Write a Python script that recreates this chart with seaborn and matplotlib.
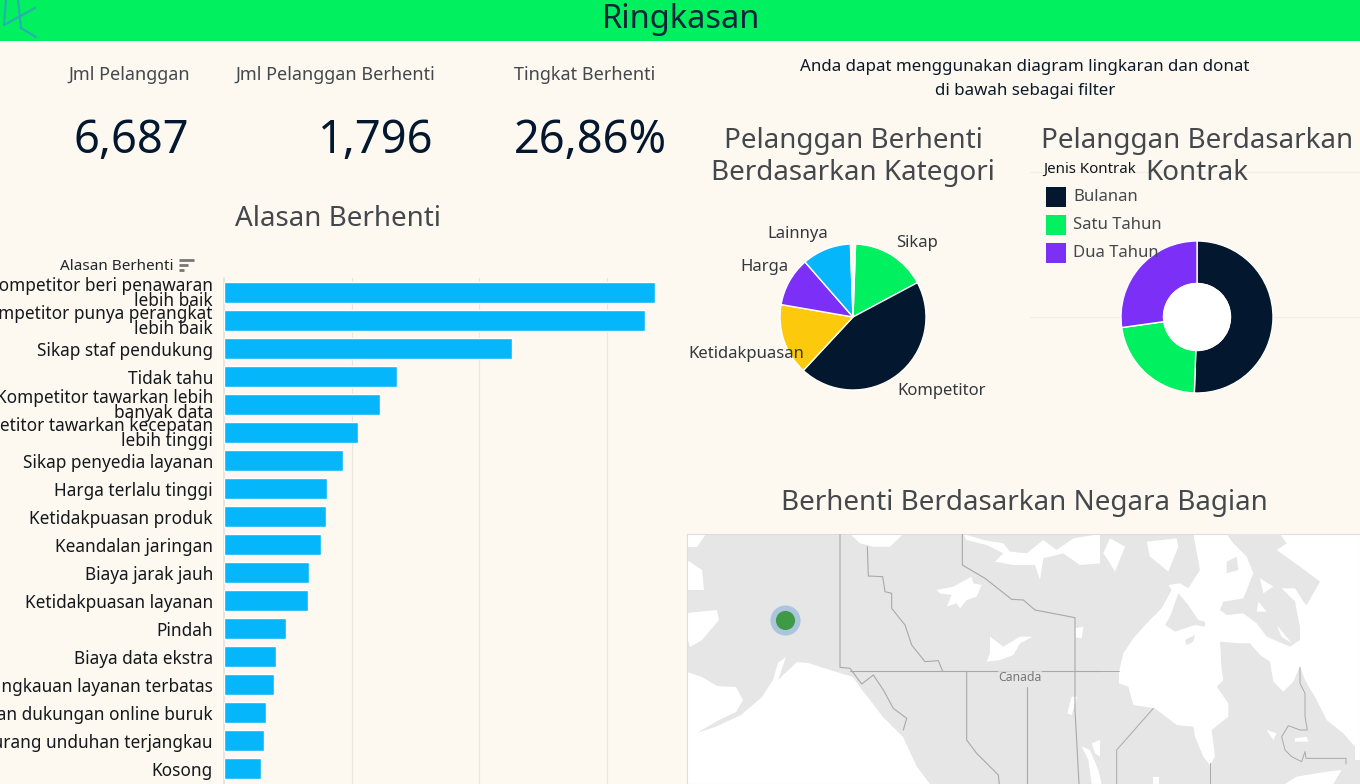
import matplotlib
matplotlib.use("Agg")
import matplotlib.pyplot as plt
from matplotlib.patches import Circle, Polygon, Rectangle
import numpy as np
import pandas as pd
import seaborn as sns

# Churn reasons, in customers
reasons = [
    "Kompetitor beri penawaran\nlebih baik", "Kompetitor punya perangkat\nlebih baik",
    "Sikap staf pendukung", "Tidak tahu", "Kompetitor tawarkan lebih\nbanyak data",
    "Kompetitor tawarkan kecepatan\nlebih tinggi", "Sikap penyedia layanan",
    "Harga terlalu tinggi", "Ketidakpuasan produk", "Keandalan jaringan",
    "Biaya jarak jauh", "Ketidakpuasan layanan", "Pindah", "Biaya data ekstra",
    "Jangkauan layanan terbatas", "Keahlian dukungan online buruk",
    "Kurang unduhan terjangkau", "Kosong",
]
reason_counts = [338, 330, 226, 136, 122, 105, 93, 81, 80, 76, 67, 66, 49, 41, 39, 33, 31, 29]

category_names = ["Sikap", "Kompetitor", "Ketidakpuasan", "Harga", "Lainnya", "Kosong"]
category_counts = [299, 803, 284, 195, 195, 20]

contract_names = ["Bulanan", "Satu Tahun", "Dua Tahun"]
contract_counts = [3381, 1486, 1820]

kpi_labels = ["Jml Pelanggan", "Jml Pelanggan Berhenti", "Tingkat Berhenti"]
kpi_values = ["6,687", "1,796", "26,86%"]

state_x = [785]
state_y = [620]

NAVY = "#03182f"
GREEN = "#00f060"
PURPLE = "#7b2ff7"
BLUE = "#06b6fb"
YELLOW = "#fdc90d"
PAPER = "#fdf9f1"
LAND = "#e6e6e6"
BORDER = "#a9a9a9"

W, H = 1360, 784
SANS = ["Noto Sans", "DejaVu Sans"]
NARROW = ["Liberation Sans Narrow", "Noto Sans", "DejaVu Sans"]

sns.set_theme(style="white")
plt.rcParams["font.family"] = SANS


def pixel_axes(fig, left, top, width, height, **kwargs):
    return fig.add_axes([left / W, 1 - (top + height) / H, width / W, height / H], **kwargs)


fig = plt.figure(figsize=(W / 100, H / 100), dpi=100, facecolor=PAPER)

# Reasons bar chart
ax_bar = pixel_axes(fig, 224, 278, 445, 506, facecolor=PAPER)
frame = pd.DataFrame({"alasan": reasons, "jumlah": reason_counts})
sns.barplot(data=frame, y="alasan", x="jumlah", color=BLUE, saturation=1, width=0.75,
            ax=ax_bar, zorder=3)
ax_bar.set_xlim(0, 349)
ax_bar.set_ylim(17.55, -0.518)
ax_bar.set_xticks([100, 200, 300])
ax_bar.set_xticklabels([])
ax_bar.grid(axis="x", color="#e8e6e0", lw=0.8, zorder=0)
ax_bar.set_xlabel("")
ax_bar.set_ylabel("")
for side in ["top", "right", "bottom"]:
    ax_bar.spines[side].set_visible(False)
ax_bar.spines["left"].set_color("#e3e3e3")
ax_bar.tick_params(axis="y", length=0, pad=8)
for label in ax_bar.get_yticklabels():
    label.set(family=NARROW, fontsize=12.4, color="#15181c", linespacing=0.82, ha="right")

# Category pie
ax_pie = pixel_axes(fig, 780, 244, 146, 146)
ax_pie.pie(category_counts, colors=[GREEN, NAVY, YELLOW, PURPLE, BLUE, PAPER],
           startangle=88, counterclock=False, radius=1)
ax_pie.set_xlim(-1, 1)
ax_pie.set_ylim(-1, 1)

# Contract donut
ax_donut = pixel_axes(fig, 1121, 241, 152, 152)
ax_donut.pie(contract_counts, colors=[NAVY, GREEN, PURPLE], startangle=90, counterclock=False,
             radius=1, wedgeprops={"width": 0.56})
ax_donut.add_patch(Circle((0, 0), 0.44, color="white", zorder=5))
ax_donut.set_xlim(-1, 1)
ax_donut.set_ylim(-1, 1)

# State map: land backdrop, water bodies, borders
ax_map = pixel_axes(fig, 687, 534, 673, 250, facecolor=LAND)
ax_map.set_xlim(687, 1360)
ax_map.set_ylim(784, 534)
ax_map.set_xticks([])
ax_map.set_yticks([])
for spine in ax_map.spines.values():
    spine.set_color("#dddddd")
    spine.set_linewidth(0.8)


def tile(points, x0, y0):
    pts = np.asarray(points, dtype=float) / 3
    return pts + [x0, y0]


def west(points):
    return tile(points, 840, 530)


def east(points):
    return tile(points, 1100, 530)


def fill(points, color="white", z=2):
    ax_map.add_patch(Polygon(points, closed=True, facecolor=color, edgecolor="none", zorder=z))


def border(points, lw=0.8, color=BORDER):
    pts = np.asarray(points)
    ax_map.plot(pts[:, 0], pts[:, 1], color=color, lw=lw, zorder=4)


water_west = [
    [(687, 672), (702, 677), (717, 686), (736, 687), (743, 700), (736, 712), (719, 720), (697, 733),
     (715, 727), (741, 715), (762, 697), (773, 680), (778, 663), (786, 657), (778, 680), (797, 662),
     (808, 663), (827, 669), (840, 673), (853, 677), (862, 690), (870, 700), (883, 717), (903, 737),
     (917, 767), (930, 784), (687, 784)],
    [(687, 560), (702, 570), (704, 590), (687, 590)],
    [(687, 613), (717, 610), (719, 620), (702, 640), (690, 647), (687, 637)],
    [(687, 534), (706, 534), (697, 547), (687, 547)],
]
for shape in water_west:
    fill(shape)

lakes_west = [
    [(290, 180), (340, 170), (395, 140), (400, 160), (425, 165), (410, 200), (380, 210), (360, 235),
     (350, 220), (320, 230), (335, 195), (300, 190)],
    [(450, 320), (490, 350), (540, 320), (578, 320), (540, 340), (520, 375), (480, 390), (440, 395),
     (450, 370)],
    [(370, 12), (430, 30), (490, 40), (510, 65), (560, 70), (610, 30), (650, 60), (700, 25), (780, 12),
     (780, 100), (720, 105), (670, 70), (610, 85), (600, 150), (585, 105), (520, 105), (465, 95),
     (490, 70), (440, 45), (380, 30)],
    [(30, 12), (190, 12), (150, 50), (100, 50), (60, 40)],
    [(725, 650), (750, 660), (775, 720), (785, 762), (755, 762), (745, 690)],
    [(755, 640), (780, 630), (780, 680), (765, 670)],
    [(705, 295), (730, 290), (725, 325), (707, 322)],
    [(695, 500), (712, 500), (695, 555), (682, 550)],
]
for shape in lakes_west:
    fill(west(shape))

bay_east = [(57, 425), (70, 370), (100, 325), (140, 280), (185, 235), (215, 180), (205, 165), (240, 160),
            (265, 175), (300, 120), (280, 12), (780, 12), (780, 690), (765, 690), (765, 650), (730, 610),
            (680, 570), (650, 510), (615, 450), (600, 410), (580, 455), (550, 485), (520, 455), (510, 395),
            (480, 375), (450, 340), (420, 340), (360, 335), (365, 420), (370, 450), (350, 470), (385, 520),
            (385, 560), (335, 600), (345, 680), (330, 705), (310, 680), (285, 620), (280, 590), (230, 585),
            (165, 535), (100, 525), (85, 470), (57, 460)]
fill(east(bay_east))

islands_east = [
    [(380, 12), (540, 12), (560, 40), (530, 60), (600, 110), (660, 155), (620, 225), (580, 190),
     (600, 290), (600, 330), (570, 350), (500, 320), (470, 280), (430, 250), (380, 255), (360, 240),
     (370, 215), (430, 205), (460, 130), (440, 80), (400, 40)],
    [(235, 190), (265, 225), (295, 270), (315, 275), (315, 290), (285, 285), (240, 300), (225, 305),
     (195, 285), (210, 260)],
    [(255, 330), (285, 315), (280, 335), (260, 345)],
    [(380, 95), (410, 80), (415, 120), (380, 130)],
    [(720, 720), (780, 690), (780, 762), (700, 762)],
]
for shape in islands_east:
    fill(east(shape), color=LAND, z=3)

lakes_east = [
    [(140, 35), (230, 25), (235, 50), (205, 125), (175, 100), (150, 80)],
    [(30, 25), (75, 50), (45, 125), (30, 100), (10, 70)],
    [(480, 145), (520, 170), (490, 190)],
    [(545, 175), (585, 175), (620, 230), (580, 210)],
    [(530, 285), (575, 340), (545, 320)],
    [(475, 215), (500, 245), (470, 245)],
    [(500, 600), (530, 610), (520, 630)],
    [(585, 625), (620, 620), (625, 635), (585, 635)],
    [(555, 762), (590, 740), (680, 725), (725, 720), (700, 762)],
    [(160, 740), (178, 740), (178, 762), (158, 762)],
]
for shape in lakes_east:
    fill(east(shape), z=3.5)

borders_west = [
    [(0, 0), (0, 412), (30, 415), (65, 462), (100, 435), (130, 480), (160, 535), (200, 565), (190, 600)],
    [(82, 50), (85, 138), (128, 140), (135, 185), (155, 190), (155, 235), (195, 285), (215, 345),
     (255, 395), (295, 392), (308, 424)],
    [(367, 12), (367, 105), (435, 145), (515, 208), (550, 210), (585, 240), (705, 263), (705, 540),
     (717, 762)],
    [(30, 424), (780, 424)],
    [(380, 424), (380, 630), (410, 670), (475, 735), (478, 762)],
    [(560, 470), (560, 762)],
]
for line in borders_west:
    border(west(line))
borders_east = [
    [(0, 424), (57, 424)],
    [(160, 535), (50, 660), (50, 762)],
    [(330, 700), (330, 762)],
    [(600, 412), (600, 460), (615, 490), (615, 560), (622, 600), (600, 600), (565, 587), (545, 620),
     (555, 660), (575, 680), (605, 695), (615, 665), (618, 685), (738, 685), (738, 702)],
]
for line in borders_east:
    border(east(line), lw=0.7)

ax_map.text(1020, 677.5, "Canada", ha="center", va="center", fontsize=8.8, color="#777777", zorder=6,
            bbox={"facecolor": LAND, "edgecolor": "none", "pad": 0.5, "alpha": 0.7})
sns.scatterplot(x=state_x, y=state_y, s=470, color="#6fa5d6", alpha=0.5, linewidth=0, ax=ax_map, zorder=7,
                legend=False)
sns.scatterplot(x=state_x, y=state_y, s=190, color="#3f9a45", linewidth=0, ax=ax_map, zorder=8,
                legend=False)
ax_map.set_xlim(687, 1360)
ax_map.set_ylim(784, 534)
ax_map.set_xlabel("")
ax_map.set_ylabel("")

# Dashboard furniture and text on a page-wide layer
page = fig.add_axes([0, 0, 1, 1], facecolor="none", zorder=10)
page.set_xlim(0, W)
page.set_ylim(H, 0)
page.axis("off")

page.add_patch(Rectangle((0, 0), W, 40.5, facecolor=GREEN, edgecolor="none"))
page.plot([37, 6, 16, 37], [8, 24, 0, 0][:1] + [24, 0, 0], alpha=0)
for xs, ys in [([4, 35], [25, 8]), ([4, 6], [25, 0]), ([18, 21], [0, 28]), ([21, 36], [28, 37])]:
    page.plot(xs, ys, color="#2fa6bb", lw=1.6, alpha=0.85, solid_capstyle="round")
page.text(681, 19, "Ringkasan", ha="center", va="center", fontsize=23.5, weight="medium", color="#08283a")

for cx, label in zip([129, 335, 585], kpi_labels):
    page.text(cx, 74.5, label, ha="center", va="center", fontsize=13, weight="light", color="#44484c")
for cx, value in zip([131, 376, 590], kpi_values):
    page.text(cx, 141, value, ha="center", va="center", fontsize=32.5, weight="medium", color=NAVY)

TITLE = {"ha": "center", "va": "center", "fontsize": 20, "weight": "light", "color": "#44484c"}
page.text(338, 219, "Alasan Berhenti", **TITLE)
page.text(853, 141, "Pelanggan Berhenti", **TITLE)
page.text(853, 173, "Berdasarkan Kategori", **TITLE)
page.text(1197, 141, "Pelanggan Berdasarkan", **TITLE)
page.text(1197, 173, "Kontrak", **TITLE)
page.text(1024, 503, "Berhenti Berdasarkan Negara Bagian", **TITLE)

page.text(1025, 67, "Anda dapat menggunakan diagram lingkaran dan donat", ha="center", va="center",
          fontsize=12.2, weight="medium", color="#0b1a2b")
page.text(1025, 91, "di bawah sebagai filter", ha="center", va="center",
          fontsize=12.2, weight="medium", color="#0b1a2b")

page.text(174, 266, "Alasan Berhenti", ha="right", va="center", fontsize=11, weight="medium", color="#22272b")
for y, x1 in zip([260, 265, 270], [194, 188, 184]):
    page.plot([179, x1], [y, y], color="#777777", lw=2, solid_capstyle="butt")

pie_labels = {
    "Lainnya": (798, 234), "Sikap": (917, 243), "Harga": (764, 267),
    "Ketidakpuasan": (746, 354), "Kompetitor": (942, 391),
}
for name, (x, y) in pie_labels.items():
    page.text(x, y, name, ha="center", va="center", fontsize=12, color="#33383c")

# Contract legend
page.text(1043, 169, "Jenis Kontrak", ha="left", va="center", fontsize=10.8, weight="medium",
          family=NARROW, color="#11151a")
for y, name, color in zip([197, 225, 253], contract_names, [NAVY, GREEN, PURPLE]):
    page.add_patch(Rectangle((1046, y - 10), 20, 20, facecolor=color, edgecolor="none"))
    page.text(1073, y, name, ha="left", va="center", fontsize=12, color="#44484c")

# Faint guide lines behind the donut
for y in [172, 317]:
    fig.add_artist(plt.Line2D([1030 / W, 1], [1 - y / H, 1 - y / H], color="#f0eee8", lw=0.9, zorder=0))

fig.savefig("out.png", dpi=100, facecolor=PAPER)
